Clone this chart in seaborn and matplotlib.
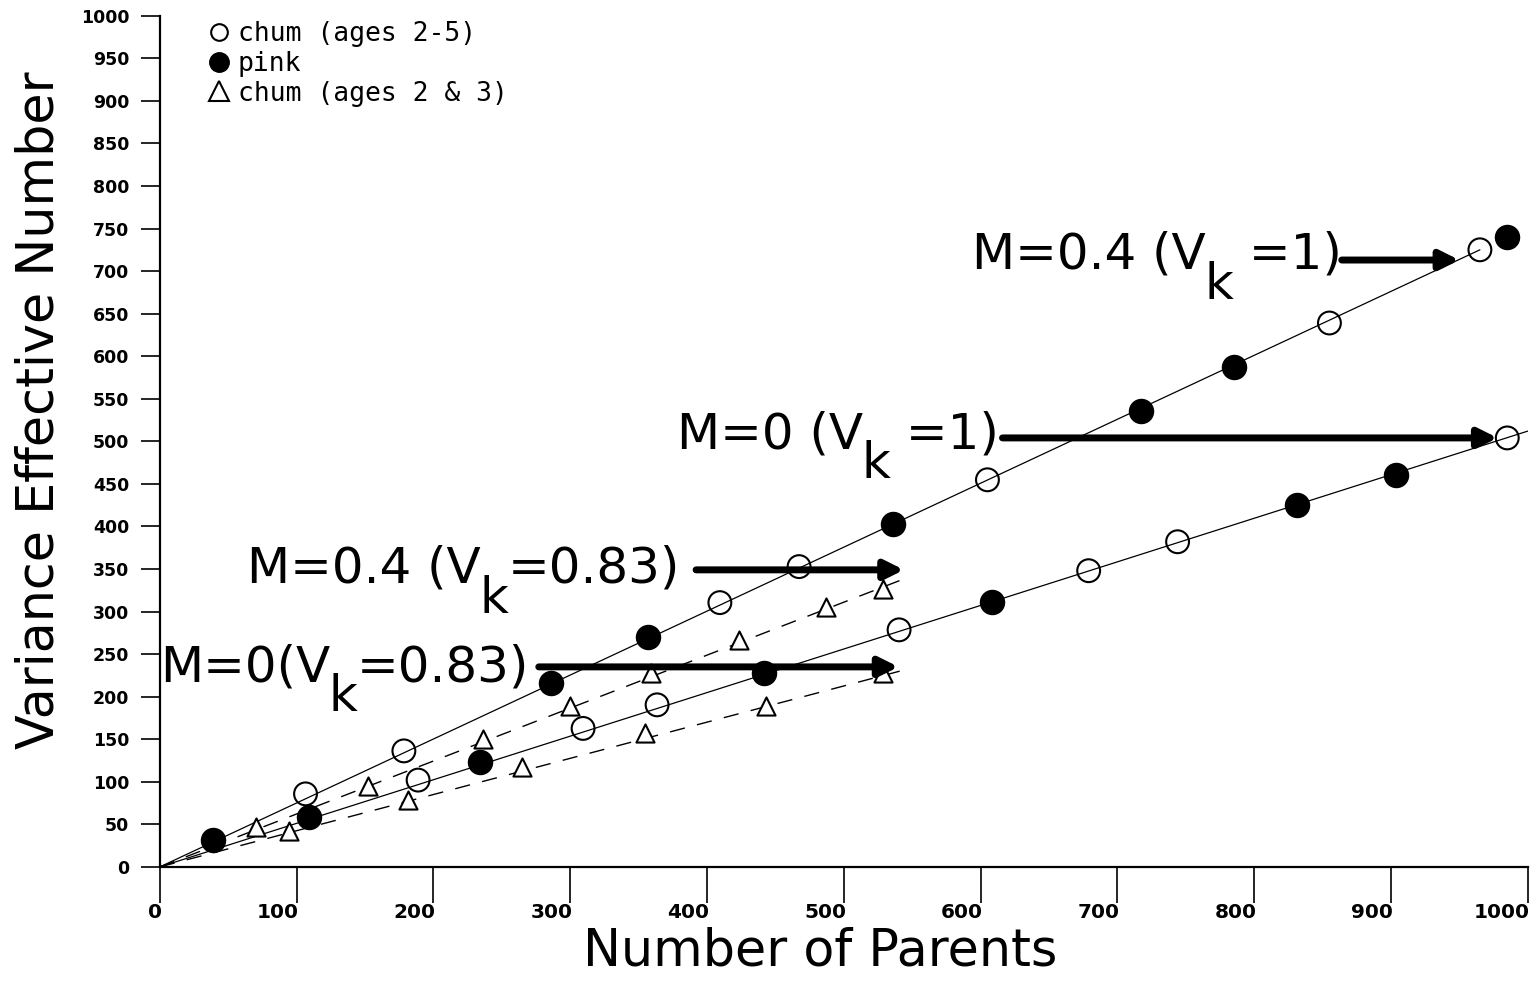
import matplotlib
matplotlib.use("Agg")
import matplotlib.pyplot as plt
import seaborn as sns
from matplotlib.lines import Line2D
from matplotlib.transforms import offset_copy

# ---------------- data ----------------
chum25_upper_x = [106.5, 178.4, 409.4, 467.3, 605.0, 855.0, 965.0]
chum25_upper_y = [85.8, 136.3, 310.5, 352.8, 454.8, 639.0, 725.0]
chum25_lower_x = [188.8, 309.4, 363.5, 540.4, 679.0, 744.0, 985.0]
chum25_lower_y = [102.0, 162.7, 190.4, 278.5, 348.0, 382.0, 504.0]

pink_upper_x = [38.5, 286.3, 356.5, 535.6, 717.0, 785.0, 985.0]
pink_upper_y = [31.7, 216.5, 269.8, 402.5, 536.0, 587.5, 740.0]
pink_lower_x = [109.0, 233.9, 441.5, 608.6, 831.0, 904.0]
pink_lower_y = [59.0, 123.7, 227.4, 311.0, 425.0, 460.6]

chum23_upper_x = [70.2, 152.3, 235.9, 300.0, 359.4, 423.5, 486.8, 528.3]
chum23_upper_y = [46.6, 95.4, 150.0, 189.0, 227.4, 266.7, 305.8, 326.2]
chum23_lower_x = [94.5, 181.5, 265.0, 354.5, 443.4, 528.3]
chum23_lower_y = [42.7, 78.7, 117.0, 157.0, 189.5, 227.4]

# regression lines (end points)
fit_upper_x = [0, 965]
fit_upper_y = [0, 725]
fit_lower_x = [0, 1000]
fit_lower_y = [0, 512]
fit_upper_dash_x = [0, 545]
fit_upper_dash_y = [0, 339]
fit_lower_dash_x = [0, 548]
fit_lower_dash_y = [0, 233]

# annotation labels: (main text, subscript, rest)
label_texts = [("M=0.4 (V", "k", " =1)"),
               ("M=0 (V", "k", " =1)"),
               ("M=0.4 (V", "k", "=0.83)"),
               ("M=0(V", "k", "=0.83)")]
label_pos = [(594, 703), (378, 492), (64, 334), (0, 218)]
arrow_y = [713, 504, 349, 235]
arrow_x0 = [864, 616, 392, 277]
arrow_x1 = [950, 978, 544, 540]

legend_labels = ["chum (ages 2-5)", "pink", "chum (ages 2 & 3)"]
xticks = list(range(0, 1001, 100))
yticks = list(range(0, 1001, 50))

# ---------------- figure ----------------
sns.set_style("ticks")
plt.rcParams['font.family'] = ['DejaVu Sans']
plt.rcParams['text.color'] = 'black'
plt.rcParams['axes.labelcolor'] = 'black'
plt.rcParams['xtick.color'] = 'black'
plt.rcParams['ytick.color'] = 'black'

fig = plt.figure(figsize=(15.37, 9.84), dpi=100)
ax = fig.add_axes([0.104, 0.119, 0.890, 0.865])

# lines
sns.lineplot(x=fit_upper_x, y=fit_upper_y, color='black', lw=0.9, ax=ax, zorder=2)
sns.lineplot(x=fit_lower_x, y=fit_lower_y, color='black', lw=0.9, ax=ax, zorder=2)
sns.lineplot(x=fit_upper_dash_x, y=fit_upper_dash_y, color='black', lw=1.0,
             linestyle=(0, (11, 9)), ax=ax, zorder=2)
sns.lineplot(x=fit_lower_dash_x, y=fit_lower_dash_y, color='black', lw=1.0,
             linestyle=(0, (11, 9)), ax=ax, zorder=2)

# markers
for xs, ys in [(chum25_upper_x, chum25_upper_y), (chum25_lower_x, chum25_lower_y)]:
    sns.scatterplot(x=xs, y=ys, marker='o', s=270, color='black', ax=ax, zorder=4)
    c = ax.collections[-1]
    c.set_facecolor('none'); c.set_edgecolor('black'); c.set_linewidth(1.5)
for xs, ys in [(pink_upper_x, pink_upper_y), (pink_lower_x, pink_lower_y)]:
    sns.scatterplot(x=xs, y=ys, marker='o', s=300, color='black', ax=ax, zorder=4)
    c = ax.collections[-1]
    c.set_facecolor('black'); c.set_edgecolor('black'); c.set_linewidth(1.0)
for xs, ys in [(chum23_upper_x, chum23_upper_y), (chum23_lower_x, chum23_lower_y)]:
    sns.scatterplot(x=xs, y=ys, marker='^', s=170, color='black', ax=ax, zorder=4)
    c = ax.collections[-1]
    c.set_facecolor('white'); c.set_edgecolor('black'); c.set_linewidth(1.5)

# arrows
for y, x0, x1 in zip(arrow_y, arrow_x0, arrow_x1):
    ax.annotate("", xy=(x1, y), xytext=(x0, y),
                arrowprops=dict(arrowstyle='-|>', lw=5, color='black',
                                mutation_scale=28, shrinkA=0, shrinkB=0),
                zorder=5)

# labels with lowered "k"
renderer = fig.canvas.get_renderer()
fs_lab = 36
for (main, sub, rest), (lx, ly) in zip(label_texts, label_pos):
    dx = 0
    for s, dy in [(main, 0), (sub, -30), (rest, 0)]:
        tr = offset_copy(ax.transData, fig=fig, x=dx, y=dy, units='dots')
        t = ax.text(lx, ly, s, transform=tr, fontsize=fs_lab, ha='left',
                    va='baseline', color='black', zorder=6)
        dx += t.get_window_extent(renderer=renderer).width + (-2 if s == main else 0)

# axes styling
ax.set_xlim(0, 1000)
ax.set_ylim(0, 1000)
ax.set_xticks(xticks)
ax.set_yticks(yticks)
ax.set_xticklabels([str(v) for v in xticks], fontsize=14.5, fontweight='bold', ha='right')
ax.set_yticklabels([str(v) for v in yticks], fontsize=12.5, fontweight='bold')
ax.tick_params(axis='y', length=14, width=1.2, pad=8, direction='out', color='black')
ax.tick_params(axis='x', length=26, width=1.2, pad=0, direction='out', color='black')
for lab in ax.get_xticklabels():
    lab.set_transform(lab.get_transform() + offset_copy(ax.transData, fig=fig, x=3, y=0,
                                                        units='dots') - ax.transData)
sns.despine(ax=ax)
for sp in ['left', 'bottom']:
    ax.spines[sp].set_linewidth(1.6)
    ax.spines[sp].set_color('black')

ax.set_xlabel("Number of Parents", fontsize=36.5)
ax.set_ylabel("Variance Effective Number", fontsize=36.5)
ax.xaxis.set_label_coords(0.483, -0.070)
ax.yaxis.set_label_coords(-0.070, 0.536)

# legend
handles = [Line2D([], [], marker='o', ls='', mfc='none', mec='black', ms=12, mew=1.5),
           Line2D([], [], marker='o', ls='', mfc='black', mec='black', ms=14),
           Line2D([], [], marker='^', ls='', mfc='white', mec='black', ms=15, mew=1.5)]
ax.legend(handles, legend_labels, loc='upper left', bbox_to_anchor=(0.026, 1.006),
          frameon=False, prop={'family': 'DejaVu Sans Mono', 'size': 19},
          handletextpad=0.2, labelspacing=0.14, handlelength=1.0, borderaxespad=0)

fig.savefig("out.png", dpi=100)
